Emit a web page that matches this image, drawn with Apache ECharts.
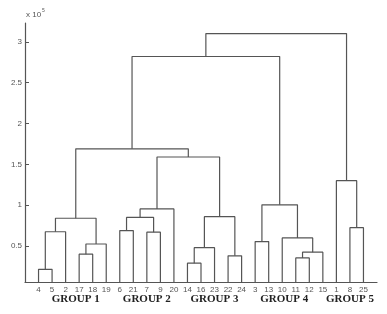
<!DOCTYPE html>
<html><head><meta charset="utf-8">
<script src="https://cdn.jsdelivr.net/npm/echarts@6/dist/echarts.min.js"></script>
<style>html,body{margin:0;padding:0;background:#fff}#c{width:387px;height:314px}</style>
</head><body><div id="c"></div>
<script>
// leaf order along the x axis
var leafOrder = [4,5,2,17,18,19,6,21,7,9,20,14,16,23,22,24,3,13,10,11,12,15,1,8,25];
// merges: [left, right, height (x1e5)]; numbers <= 25 are leaves, 'cNN' are clusters formed in order starting at c26
var merges = [
  [4, 5, 0.215],
  [2, 'c26', 0.675],
  [17, 18, 0.40],
  ['c28', 19, 0.525],
  ['c27', 'c29', 0.84],
  [6, 21, 0.69],
  [7, 9, 0.67],
  ['c31', 'c32', 0.85],
  ['c33', 20, 0.955],
  [14, 16, 0.29],
  ['c35', 23, 0.48],
  [22, 24, 0.38],
  ['c36', 'c37', 0.86],
  ['c34', 'c38', 1.59],
  ['c30', 'c39', 1.69],
  [3, 13, 0.555],
  [11, 12, 0.355],
  ['c42', 15, 0.425],
  [10, 'c43', 0.60],
  ['c41', 'c44', 1.005],
  ['c40', 'c45', 2.82],
  [8, 25, 0.725],
  [1, 'c47', 1.30],
  ['c46', 'c48', 3.10]
];
var yTicks = [0.5, 1, 1.5, 2, 2.5, 3];
var groupNames = ['GROUP 1','GROUP 2','GROUP 3','GROUP 4','GROUP 5'];
var groupCenters = [3.75, 9, 14, 19.15, 24];
var yMin = 0.06, yMax = 3.23;

var node = {};
leafOrder.forEach(function(l, i){ node[l] = {x: i + 1, h: 0}; });
var series = [];
merges.forEach(function(m, k){
  var a = node[m[0]], b = node[m[1]];
  var l = a.x < b.x ? a : b, r = a.x < b.x ? b : a;
  series.push({
    type: 'line', symbol: 'none', clip: true, animation: false, silent: true,
    lineStyle: {color: '#555', width: 1.2},
    data: [[l.x, l.h], [l.x, m[2]], [r.x, m[2]], [r.x, r.h]]
  });
  node['c' + (26 + k)] = {x: (a.x + b.x) / 2, h: m[2]};
});

var chart = echarts.init(document.getElementById('c'));
chart.setOption({
  animation: false,
  grid: {left: 25, right: 10, top: 23, bottom: 32},
  xAxis: [{
    type: 'value', min: 0, max: 26,
    axisLine: {lineStyle: {color: '#555', width: 1.2}},
    axisTick: {show: false}, splitLine: {show: false},
    axisLabel: {customValues: leafOrder.map(function(l,i){return i+1;}), margin: 4,
      fontSize: 8, color: '#555', fontFamily: 'Liberation Sans',
      formatter: function(v){ return String(leafOrder[Math.round(v) - 1]); }}
  },{
    type: 'value', min: 0, max: 26, position: 'bottom',
    axisLine: {show: false}, axisTick: {show: false}, splitLine: {show: false},
    axisLabel: {customValues: groupCenters, margin: 12,
      fontSize: 11, fontWeight: 'bold', color: '#222', fontFamily: 'Liberation Serif',
      formatter: function(v){ return groupNames[groupCenters.indexOf(v)]; }}
  }],
  yAxis: {
    type: 'value', min: yMin, max: yMax,
    axisLine: {show: true, lineStyle: {color: '#555', width: 1.2}},
    axisTick: {show: true, inside: true, length: 4, customValues: yTicks, lineStyle: {color: '#555'}},
    splitLine: {show: false},
    axisLabel: {customValues: yTicks, margin: 3, fontSize: 8, color: '#555', fontFamily: 'Liberation Sans'},
    name: '{a|x 10}{b|5}', nameLocation: 'end', nameGap: 4,
    nameTextStyle: {align: 'left', padding: [0, 0, 0, 1],
      rich: {a: {fontSize: 8, color: '#555', fontFamily: 'Liberation Sans', verticalAlign: 'bottom'},
             b: {fontSize: 5, color: '#555', fontFamily: 'Liberation Sans', padding: [0,0,6,1]}}}
  },
  series: series
});
</script></body></html>
